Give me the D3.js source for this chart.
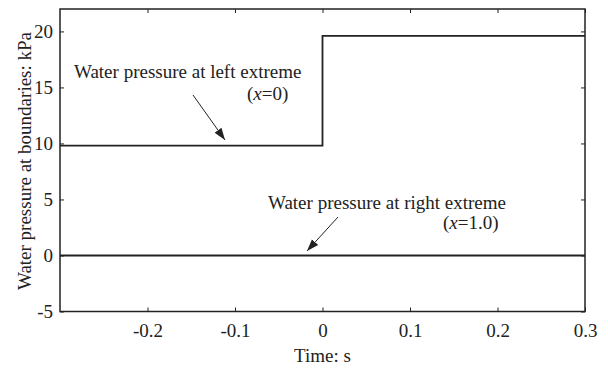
<!DOCTYPE html>
<html><head><meta charset="utf-8">
<script src="https://cdn.jsdelivr.net/npm/d3@7"></script>
<style>body{margin:0;background:#fff}svg{display:block}text{font-family:"Liberation Serif","Times New Roman",serif;fill:#222}</style>
</head><body><svg id="c" width="608" height="371"></svg>
<script>
const xTicks = [-0.2, -0.1, 0, 0.1, 0.2, 0.3];
const yTicks = [-5, 0, 5, 10, 15, 20];
const leftTime = [-0.3, 0, 0, 0.3];
const leftPressure = [9.8, 9.8, 19.6, 19.6];
const rightTime = [-0.3, 0.3];
const rightPressure = [0, 0];
const xDomain = [-0.3, 0.3];
const yDomain = [-5, 22];

const svg = d3.select("#c");
const m = {l: 60, r: 23, t: 9, b: 59.5};
const W = 608, H = 371;
const x = d3.scaleLinear().domain(xDomain).range([m.l, W - m.r]);
const y = d3.scaleLinear().domain(yDomain).range([H - m.b, m.t]);
const col = "#222";
const FS = "19px";
const hy = s => s.replace("\u2212", "-");

function styleAxis(g){
  g.attr("font-family", null).attr("font-size", null);
  g.select(".domain").remove();
  g.selectAll(".tick line").attr("stroke", col).attr("stroke-width", 1);
  g.selectAll(".tick text").attr("fill", col).style("font-size", FS).style("font-family", '"Liberation Serif",serif');
}
// bottom
svg.append("g").attr("transform", `translate(0,${y(yDomain[0])})`)
  .call(d3.axisBottom(x).tickValues(xTicks).tickFormat(d => d === 0 ? "0" : hy(d3.format(".1f")(d))).tickSizeInner(-4).tickPadding(12))
  .call(styleAxis);
// top
svg.append("g").attr("transform", `translate(0,${y(yDomain[1])})`)
  .call(d3.axisTop(x).tickValues(xTicks).tickSizeInner(-4).tickFormat(""))
  .call(styleAxis);
// left
svg.append("g").attr("transform", `translate(${x(xDomain[0])},0)`)
  .call(d3.axisLeft(y).tickValues(yTicks).tickFormat(d => hy(String(d))).tickSizeInner(-4).tickPadding(7))
  .call(styleAxis);
// right
svg.append("g").attr("transform", `translate(${x(xDomain[1])},0)`)
  .call(d3.axisRight(y).tickValues(yTicks).tickSizeInner(-4).tickFormat(""))
  .call(styleAxis);

// frame
svg.append("rect").attr("x", x(xDomain[0])).attr("y", y(yDomain[1]))
  .attr("width", x(xDomain[1]) - x(xDomain[0])).attr("height", y(yDomain[0]) - y(yDomain[1]))
  .attr("fill", "none").attr("stroke", col).attr("stroke-width", 1.5);

const line = d3.line().x(d => x(d[0])).y(d => y(d[1]));
svg.append("path").datum(leftTime.map((t, i) => [t, leftPressure[i]]))
  .attr("d", line).attr("fill", "none").attr("stroke", col).attr("stroke-width", 1.8);
svg.append("path").datum(rightTime.map((t, i) => [t, rightPressure[i]]))
  .attr("d", line).attr("fill", "none").attr("stroke", col).attr("stroke-width", 1.8);

// axis titles
svg.append("text").attr("x", x(0)).attr("y", 362).attr("text-anchor", "middle").style("font-size", FS).text("Time: s");
svg.append("text").attr("transform", `translate(31,161) rotate(-90)`)
  .attr("text-anchor", "middle").style("font-size", FS).text("Water pressure at boundaries: kPa");

// arrow marker
svg.append("defs").append("marker").attr("id", "ah").attr("viewBox", "0 0 10 10")
  .attr("refX", 10).attr("refY", 5).attr("markerWidth", 12).attr("markerHeight", 12)
  .attr("markerUnits", "userSpaceOnUse").attr("orient", "auto")
  .append("path").attr("d", "M0,1.5 L10,5 L0,8.5 z").attr("fill", col);

// annotations
svg.append("text").attr("x", 74).attr("y", 78).style("font-size", FS).text("Water pressure at left extreme");
const t1 = svg.append("text").attr("x", 247).attr("y", 100).style("font-size", FS);
t1.append("tspan").text("(");
t1.append("tspan").style("font-style", "italic").text("x");
t1.append("tspan").text("=0)");
svg.append("line").attr("x1", 193).attr("y1", 95).attr("x2", 225).attr("y2", 140)
  .attr("stroke", col).attr("stroke-width", 1).attr("marker-end", "url(#ah)");

svg.append("text").attr("x", 268).attr("y", 209).style("font-size", FS).text("Water pressure at right extreme");
const t2 = svg.append("text").attr("x", 443).attr("y", 229).style("font-size", FS);
t2.append("tspan").text("(");
t2.append("tspan").style("font-style", "italic").text("x");
t2.append("tspan").text("=1.0)");
svg.append("line").attr("x1", 338).attr("y1", 217).attr("x2", 307).attr("y2", 251)
  .attr("stroke", col).attr("stroke-width", 1).attr("marker-end", "url(#ah)");
</script></body></html>
